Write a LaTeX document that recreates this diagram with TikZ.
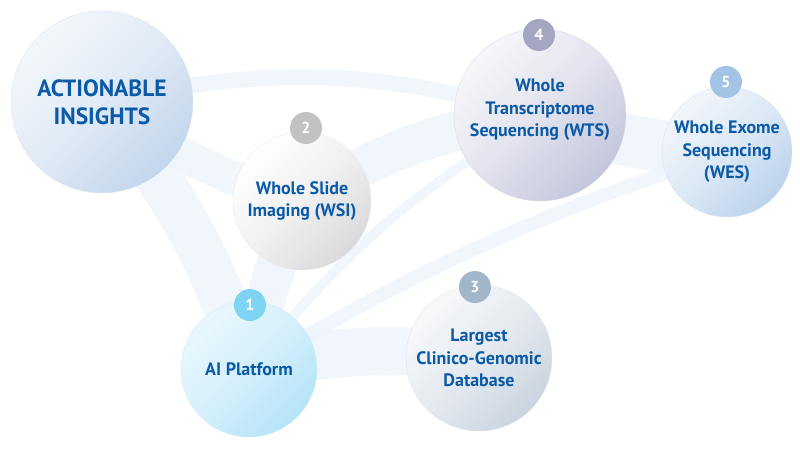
\documentclass[tikz,border=0pt]{standalone}
\usepackage{fontspec}
\setmainfont{PT Sans}
\usetikzlibrary{backgrounds}
\definecolor{textblue}{HTML}{0B5AA8}
\definecolor{webblue}{HTML}{EDF4FB}
\definecolor{actdark}{HTML}{C3D6EC}
\definecolor{aidark}{HTML}{B5E4F8}
\definecolor{wsidark}{HTML}{DADADC}
\definecolor{lcgdark}{HTML}{CAD4E0}
\definecolor{wtsdark}{HTML}{C4C6DC}
\definecolor{wesdark}{HTML}{BCD3EC}
\definecolor{badgeone}{HTML}{7ED4F2}
\definecolor{badgetwo}{HTML}{C2C2C4}
\definecolor{badgethree}{HTML}{A2B6CA}
\definecolor{badgefour}{HTML}{A4A6C2}
\definecolor{badgefive}{HTML}{A3C4E4}

\begin{document}
\begin{tikzpicture}[x=1pt, y=-1pt,
    bubble/.style 2 args={circle, inner sep=0pt, align=center, text=textblue,
                  font=\bfseries\fontsize{18}{22.5}\selectfont,
                  draw=#2!60, line width=0.4pt,
                  top color=#1, bottom color=#2, middle color=#1!60!#2,
                  shading angle=45},
    badge/.style={circle, fill=#1, minimum size=32pt, inner sep=0pt,
                  text=white, font=\bfseries\fontsize{16}{16}\selectfont},
    web/.style={draw=webblue, line width=#1, line cap=round, opacity=0.8}
]
    \useasboundingbox (0,0) rectangle (800,476);

    \node[bubble={white!80!actdark}{actdark}, minimum size=182pt,
          font=\bfseries\fontsize{23.5}{28}\selectfont] (act) at (102,102) {ACTIONABLE\\INSIGHTS};
    \node[bubble={white}{wsidark}, minimum size=138pt] (wsi) at (302,201) {Whole Slide\\Imaging (WSI)};
    \node[bubble={white!85!wtsdark}{wtsdark}, minimum size=172pt] (wts) at (540,115) {Whole\\Transcriptome\\Sequencing (WTS)\\[-8pt]};
    \node[bubble={white!80!wesdark}{wesdark}, minimum size=130pt] (wes) at (727,152) {Whole Exome\\Sequencing\\(WES)};
    \node[bubble={white!70!aidark}{aidark}, minimum size=136pt] (ai) at (249,369) {AI Platform};
    \node[bubble={white!85!lcgdark}{lcgdark}, minimum size=146pt] (lcg) at (479,358) {Largest\\Clinico-Genomic\\Database};

    \node[badge=badgeone] (b1) at (250,305) {1};
    \node[badge=badgetwo] (b2) at (306,128) {2};
    \node[badge=badgethree] (b3) at (475,287) {3};
    \node[badge=badgefour] (b4) at (539,35) {4};
    \node[badge=badgefive] (b5) at (726,82) {5};

    \begin{scope}[on background layer]
        \draw[web=46pt] (act.center) to[bend left=10] (ai.center);
        \draw[web=34pt] (act.center) to[bend right=10] (wsi.center);
        \draw[web=40pt] (wsi.center) to[bend left=12] (wts.center);
        \draw[web=52pt] (wts.center) to[bend right=8] (wes.center);
        \draw[web=40pt] (wsi.center) to[bend right=6] (ai.center);
        \draw[web=48pt] (ai.center) to[bend left=10] (lcg.center);
        \draw[web=14pt] (ai.center) to[bend left=6] (wes.center);
        \draw[web=10pt] (ai.center) to[bend left=10] (wts.center);
        \draw[web=16pt] (act.center) to[bend left=14] (wts.center);
    \end{scope}
\end{tikzpicture}
\end{document}
